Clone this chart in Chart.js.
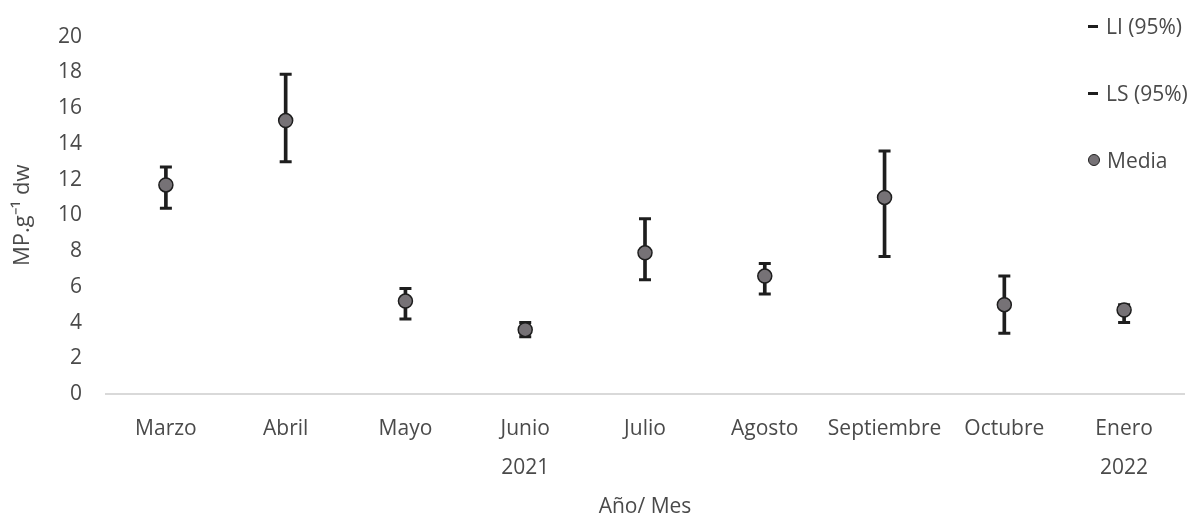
<!DOCTYPE html>
<html>
<head>
<meta charset="utf-8">
<script src="https://cdn.jsdelivr.net/npm/chart.js@4"></script>
<style>
  html, body { margin: 0; padding: 0; background: #fff; }
  #wrap { position: relative; width: 1198px; height: 518px; }
  #legend {
    position: absolute; left: 1088px; top: 12px;
    font-family: "Open Sans", sans-serif; font-size: 21px; color: #4a4a4a;
  }
  .item { display: flex; align-items: center; height: 28px; margin-bottom: 39px; white-space: nowrap; }
  .dash { width: 10px; height: 3px; background: #1e1e1e; margin-right: 8px; }
  .dot { width: 12px; height: 12px; border-radius: 50%; background: #767276;
         border: 1.5px solid #1e1e1e; margin-right: 7px; box-sizing: border-box; }
</style>
</head>
<body>
<div id="wrap">
  <canvas id="chart" width="1198" height="518"></canvas>
  <div id="legend"></div>
</div>
<script>
// months (second line = year row of the category axis)
const months = [
  'Marzo', 'Abril', 'Mayo', ['Junio', '2021'], 'Julio',
  'Agosto', 'Septiembre', 'Octubre', ['Enero', '2022']
];
const media = [11.7, 15.3, 5.2, 3.6, 7.9, 6.6, 11.0, 5.0, 4.7];
const li95  = [10.4, 13.0, 4.2, 3.2, 6.4, 5.6, 7.7, 3.4, 4.0];
const ls95  = [12.7, 17.9, 5.9, 4.0, 9.8, 7.3, 13.6, 6.6, 5.0];

const txt = '#4a4a4a';
const ink = '#1e1e1e';
const font = { family: '"Open Sans", sans-serif', size: 21 };

const capStyle = {
  type: 'line', showLine: false,
  pointStyle: 'line', pointRadius: 6, pointHoverRadius: 6,
  pointBorderColor: ink, pointBorderWidth: 3, borderColor: ink
};

new Chart(document.getElementById('chart'), {
  type: 'bar',
  data: {
    labels: months,
    datasets: [
      { label: 'Media', type: 'line', showLine: false, data: media,
        pointStyle: 'circle', pointRadius: 7, pointHoverRadius: 7,
        pointBackgroundColor: '#767276', pointBorderColor: ink, pointBorderWidth: 1.5,
        order: 0 },
      { label: 'LI (95%)', data: li95, order: 1, ...capStyle },
      { label: 'LS (95%)', data: ls95, order: 1, ...capStyle },
      // vertical whisker between the two limits
      { label: 'rango', data: li95.map((v, i) => [v, ls95[i]]),
        backgroundColor: ink, barThickness: 3, grouped: false, order: 2 }
    ]
  },
  options: {
    responsive: false,
    animation: false,
    layout: { padding: { top: 36, right: 14, left: 0, bottom: 0 } },
    plugins: { legend: { display: false }, tooltip: { enabled: false } },
    scales: {
      x: {
        offset: true,
        grid: { display: false, drawTicks: false },
        border: { display: true, color: '#d9d9d9', width: 2 },
        ticks: { color: txt, font: { ...font, lineHeight: 1.86 }, padding: 15, maxRotation: 0 },
        title: { display: true, text: 'Año/ Mes', color: txt, font: { ...font, lineHeight: 1.0 }, padding: { top: 0, bottom: 0 } },
        afterFit: s => { s.height = 124; }
      },
      y: {
        min: 0, max: 20,
        grid: { display: false, drawTicks: false },
        border: { display: false },
        ticks: { stepSize: 2, color: txt, font: font, padding: 24 },
        title: { display: true, text: 'MP.g⁻¹ dw', color: txt, font: { ...font, size: 22 }, padding: { top: 10 } },
        afterFit: s => { s.width = 106; }
      }
    }
  }
});

// legend overlaid at the right, as in the source figure
const legend = document.getElementById('legend');
[['LI (95%)', 'dash'], ['LS (95%)', 'dash'], ['Media', 'dot']].forEach(([name, mark]) => {
  const row = document.createElement('div');
  row.className = 'item';
  row.innerHTML = `<span class="${mark}"></span><span>${name}</span>`;
  legend.appendChild(row);
});
</script>
</body>
</html>
